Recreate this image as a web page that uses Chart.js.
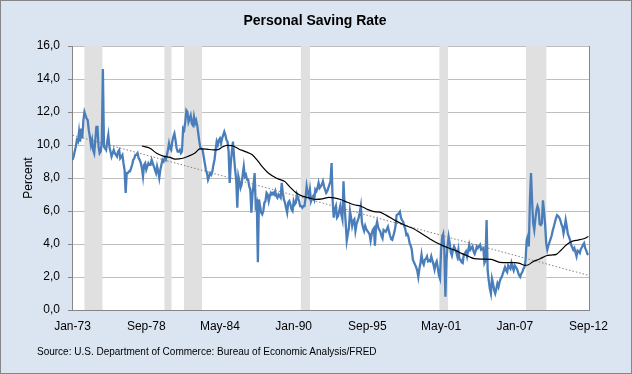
<!DOCTYPE html>
<html>
<head>
<meta charset="utf-8">
<script src="https://cdn.jsdelivr.net/npm/chart.js@4.4.1/dist/chart.umd.min.js"></script>
<style>
  html, body { margin: 0; padding: 0; background: #dbe5f1; }
  #box { position: absolute; left: 0; top: 0; width: 632px; height: 374px; }
  #frame { position: absolute; left: 0; top: 0; width: 632px; height: 374px; box-sizing: border-box;
           border: 1px solid #868686; pointer-events: none; }
  #title { position: absolute; left: 0; top: 12px; width: 630px; text-align: center;
           font: bold 14px "Liberation Sans", Arial, sans-serif; line-height: 16px; color: #000; }
  #source { position: absolute; left: 37px; top: 346px; font: 10px "Liberation Sans", Arial, sans-serif;
            line-height: 12px; color: #000; }
</style>
</head>
<body>
<div id="box"><canvas id="savingChart"></canvas></div>
<div id="title">Personal Saving Rate</div>
<div id="source">Source: U.S. Department of Commerce: Bureau of Economic Analysis/FRED</div>
<div id="frame"></div>
<script>
// Monthly personal saving rate, Jan-73 .. Sep-12 (percent), one row per year
const savingRate = [
  9.1, 9.3, 9.6, 9.9, 10.3, 10.2, 10.8, 10.2, 11.0, 10.4, 11.5, 12.0,
  11.8, 11.6, 11.5, 10.9, 10.5, 10.0, 10.3, 9.7, 9.5, 10.3, 11.1, 11.1,
  9.9, 9.5, 9.6, 10.2, 14.6, 9.9, 9.8, 9.7, 10.2, 10.6, 9.9, 9.6,
  9.3, 9.5, 9.7, 9.5, 9.4, 9.3, 9.6, 9.7, 9.2, 9.3, 9.4, 8.9,
  8.5, 7.1, 8.3, 8.3, 8.4, 8.4, 8.6, 8.8, 9.1, 9.2, 9.4, 9.4,
  9.5, 9.2, 9.1, 8.9, 8.6, 8.1, 8.8, 8.9, 8.5, 8.7, 8.9, 8.8,
  8.8, 9.1, 8.9, 8.7, 8.5, 8.3, 8.7, 8.4, 8.0, 8.5, 8.8, 9.1,
  9.0, 9.2, 9.1, 9.4, 9.7, 10.1, 9.8, 9.7, 10.2, 10.5, 10.7, 10.3,
  9.8, 9.6, 9.6, 9.7, 9.5, 9.6, 11.0, 10.9, 11.4, 12.1, 12.0, 11.4,
  11.6, 11.8, 11.3, 11.2, 11.7, 11.3, 11.5, 11.2, 10.7, 10.2, 9.8, 9.8,
  9.7, 9.3, 8.9, 8.5, 8.3, 7.9, 8.1, 8.3, 8.2, 8.4, 8.8, 9.1,
  9.7, 10.2, 10.0, 10.3, 10.4, 10.1, 10.4, 10.6, 10.8, 10.6, 10.3, 10.2,
  9.6, 7.7, 8.9, 9.6, 10.2, 9.3, 8.5, 7.9, 6.2, 8.1, 7.8, 7.4,
  7.6, 8.2, 8.7, 8.1, 8.2, 7.9, 7.9, 7.5, 7.3, 5.9, 7.0, 7.6,
  8.3, 6.3, 6.5, 2.9, 6.7, 6.3, 5.9, 5.8, 6.0, 6.5, 6.6, 7.1,
  7.0, 6.6, 6.9, 7.1, 7.0, 7.1, 7.0, 7.2, 6.9, 6.8, 7.0, 6.9,
  6.8, 7.7, 7.1, 6.7, 6.5, 6.2, 5.9, 6.5, 6.6, 6.4, 6.1, 6.0,
  6.6, 6.4, 6.5, 7.0, 6.8, 6.6, 6.3, 6.3, 6.2, 6.3, 6.3, 6.8,
  7.5, 7.1, 6.9, 7.3, 6.6, 6.8, 6.9, 6.7, 7.3, 7.2, 7.4, 7.7,
  7.4, 7.5, 7.6, 7.8, 7.5, 7.3, 7.1, 7.2, 7.4, 7.6, 7.8, 8.9,
  6.6, 5.6, 6.1, 6.3, 5.6, 5.7, 6.0, 6.3, 5.8, 5.5, 7.8, 6.3,
  5.3, 4.2, 4.6, 5.0, 6.0, 5.6, 5.1, 5.4, 5.5, 4.8, 5.2, 5.4,
  5.6, 5.9, 6.3, 5.3, 5.0, 4.8, 5.1, 4.9, 4.8, 4.7, 4.6, 4.2,
  4.6, 4.85, 4.95, 3.9, 5.05, 5.35, 5.0, 4.85, 4.75, 4.5, 4.35, 4.85,
  4.8, 4.75, 4.9, 5.05, 4.75, 4.5, 4.3, 4.25, 4.5, 4.75, 5.1, 5.75,
  5.8, 5.85, 5.95, 5.6, 5.45, 5.35, 5.1, 4.9, 4.55, 4.6, 4.4, 4.05,
  3.9, 3.65, 3.05, 2.9, 2.75, 2.6, 2.4, 2.0, 2.5, 2.85, 3.35, 2.9,
  2.75, 3.05, 3.1, 3.25, 2.95, 3.0, 2.95, 3.25, 3.0, 2.75, 2.45, 2.8,
  2.95, 2.55, 2.1, 1.9, 3.6, 4.4, 4.6, 3.7, 0.8, 3.0, 3.9, 4.45,
  4.05, 3.5, 3.3, 3.65, 3.85, 3.7, 3.5, 3.25, 3.65, 3.05, 3.05, 2.9,
  2.85, 3.35, 3.45, 3.55, 3.25, 3.6, 3.95, 3.65, 3.75, 3.85, 3.55, 3.4,
  3.6, 3.85, 3.75, 3.85, 3.95, 3.65, 3.7, 3.75, 2.85, 3.0, 5.45, 2.4,
  1.8, 1.3, 1.0, 1.9, 1.6, 1.2, 1.0, 1.3, 1.6, 1.4, 1.7, 1.9,
  2.0, 2.2, 2.4, 2.6, 2.4, 2.3, 2.7, 2.6, 2.5, 2.85, 2.6, 2.4,
  2.7, 2.6, 2.5, 2.3, 2.1, 2.0, 2.2, 2.3, 2.5, 2.6, 3.05, 4.25,
  4.45, 3.85, 6.65, 8.3, 6.6, 5.25, 4.85, 5.5, 6.05, 6.3, 6.1, 5.2,
  5.15, 5.25, 6.65, 6.0, 5.2, 4.05, 3.65, 3.9, 4.1, 4.3, 4.5, 4.8,
  5.05, 5.3, 5.55, 5.75, 5.7, 5.6, 5.45, 5.2, 5.05, 4.65, 5.0, 5.45,
  5.05, 4.6, 4.45, 4.25, 3.95, 3.8, 3.65, 3.75, 3.5, 3.25, 3.6, 3.55,
  3.45, 3.7, 3.8, 3.95, 4.05, 3.75, 3.6, 3.4, 3.35
];

// Moving average line (month index from Jan-73, value)
const maMonths = [64, 71.5, 77.6, 83.7, 89.9, 94.5, 100.7, 106.8, 113, 117.6, 123.8, 129.9, 134.5, 137.9,
  142.5, 147.1, 153.3, 159.4, 165.5, 170.2, 174.8, 180.6, 188.3, 196, 200.6, 205.9, 212, 218.1, 224.3,
  230.4, 236.6, 241.2, 247.4, 253.5, 259.6, 265.8, 271.9, 278.1, 283.6, 289.2, 298.4, 306.1, 313.8,
  321.5, 329.1, 336.9, 341.5, 347.6, 353.7, 359.9, 366, 370.6, 377.7, 386.3, 394.1, 401.7, 407.9,
  412.5, 417.1, 420.2, 424.8, 430.9, 437.1, 441.7, 446.3, 450.9, 455.5, 460.1, 466.3, 470.9, 476];
const maValues = [9.94, 9.8, 9.5, 9.33, 9.25, 9.15, 9.18, 9.32, 9.52, 9.76, 9.75, 9.7, 9.72, 9.86,
  9.98, 9.96, 9.76, 9.6, 9.42, 9.1, 8.7, 8.3, 7.98, 7.78, 7.45, 7.12, 6.9, 6.8, 6.7,
  6.73, 6.83, 6.8, 6.7, 6.53, 6.38, 6.3, 6.1, 5.96, 5.93, 5.75, 5.4, 5.15, 4.95,
  4.65, 4.34, 4.04, 3.9, 3.74, 3.6, 3.4, 3.23, 3.11, 3.08, 3.07, 2.89, 2.87, 2.87,
  2.83, 2.71, 2.73, 2.93, 3.09, 3.29, 3.33, 3.37, 3.64, 3.94, 4.14, 4.24, 4.3, 4.45];

// Linear trend (dotted)
const trendMonths = [0, 476];
const trendValues = [10.6, 2.1];

// Recession shading (month index from Jan-73)
const recessionStart = [10.8, 84.6, 102.7, 210.5, 338.3, 418.3];
const recessionEnd = [27.8, 91.5, 119.6, 219.1, 346.6, 437.4];

// Category axis labels
const tickMonths = [0, 68, 136, 204, 272, 340, 408, 476];
const tickLabels = ['Jan-73', 'Sep-78', 'May-84', 'Jan-90', 'Sep-95', 'May-01', 'Jan-07', 'Sep-12'];

const FONT = '"Liberation Sans", Arial, sans-serif';

const plotBackground = {
    id: 'plotBackground',
    beforeDraw(chart) {
        const { ctx, chartArea: a } = chart;
        ctx.save();
        ctx.fillStyle = '#ffffff';
        ctx.fillRect(a.left, a.top, a.right - a.left, a.bottom - a.top);
        ctx.restore();
    },
    afterDraw(chart) {
        const { ctx, chartArea: a } = chart;
        ctx.save();
        ctx.strokeStyle = '#868686';
        ctx.lineWidth = 1;
        ctx.beginPath();
        ctx.moveTo(Math.round(a.right) + 0.5, a.top);
        ctx.lineTo(Math.round(a.right) + 0.5, a.bottom);
        ctx.stroke();
        ctx.restore();
    }
};

const bandSets = recessionStart.map((s, i) => ({
    label: 'Recession ' + (i + 1),
    data: [{ x: s, y: 16 }, { x: recessionEnd[i], y: 16 }],
    borderWidth: 0,
    pointRadius: 0,
    backgroundColor: '#e0e0e0',
    fill: 'origin'
}));

const ctx = document.getElementById('savingChart').getContext('2d');

new Chart(ctx, {
    type: 'line',
    data: {
        datasets: [
            {
                label: 'Moving average',
                data: maMonths.map((m, i) => ({ x: m, y: maValues[i] })),
                borderColor: '#000000',
                borderWidth: 1.2,
                pointRadius: 0,
                cubicInterpolationMode: 'monotone',
                fill: false
            },
            {
                label: 'Trend',
                data: trendMonths.map((m, i) => ({ x: m, y: trendValues[i] })),
                borderColor: '#808080',
                borderWidth: 1,
                borderDash: [1.5, 2],
                pointRadius: 0,
                fill: false
            },
            {
                label: 'Personal Saving Rate',
                data: savingRate.map((v, i) => ({ x: i, y: v })),
                borderColor: '#4a7ebb',
                borderWidth: 2.3,
                pointRadius: 0,
                tension: 0,
                fill: false
            },
            ...bandSets
        ]
    },
    options: {
        responsive: true,
        maintainAspectRatio: false,
        animation: false,
        events: [],
        layout: { padding: { top: 46, right: 43, left: 0, bottom: 0 } },
        plugins: {
            legend: { display: false },
            tooltip: { enabled: false },
            title: { display: false }
        },
        scales: {
            x: {
                type: 'linear',
                min: -0.5,
                max: 476.5,
                grid: { display: false },
                border: { display: true, color: '#868686', width: 1 },
                afterBuildTicks: (scale) => {
                    scale.ticks = tickMonths.map(v => ({ value: v }));
                },
                afterFit: (scale) => { scale.height = 64; },
                ticks: {
                    autoSkip: false,
                    maxRotation: 0,
                    padding: 1,
                    color: '#000000',
                    font: { family: FONT, size: 12 },
                    callback: (v) => tickLabels[tickMonths.indexOf(v)]
                }
            },
            y: {
                min: 0,
                max: 16,
                afterFit: (scale) => { scale.width = 72; },
                grid: { color: '#bfbfbf', tickLength: 4, tickColor: '#868686' },
                border: { display: true, color: '#868686', width: 1 },
                title: {
                    display: true,
                    text: 'Percent',
                    color: '#000000',
                    font: { family: FONT, size: 12 },
                    padding: { top: 21, bottom: 0 }
                },
                ticks: {
                    stepSize: 2,
                    padding: 8,
                    color: '#000000',
                    font: { family: FONT, size: 12 },
                    callback: (v) => v.toFixed(1).replace('.', ',')
                }
            }
        }
    },
    plugins: [plotBackground]
});
</script>
</body>
</html>
